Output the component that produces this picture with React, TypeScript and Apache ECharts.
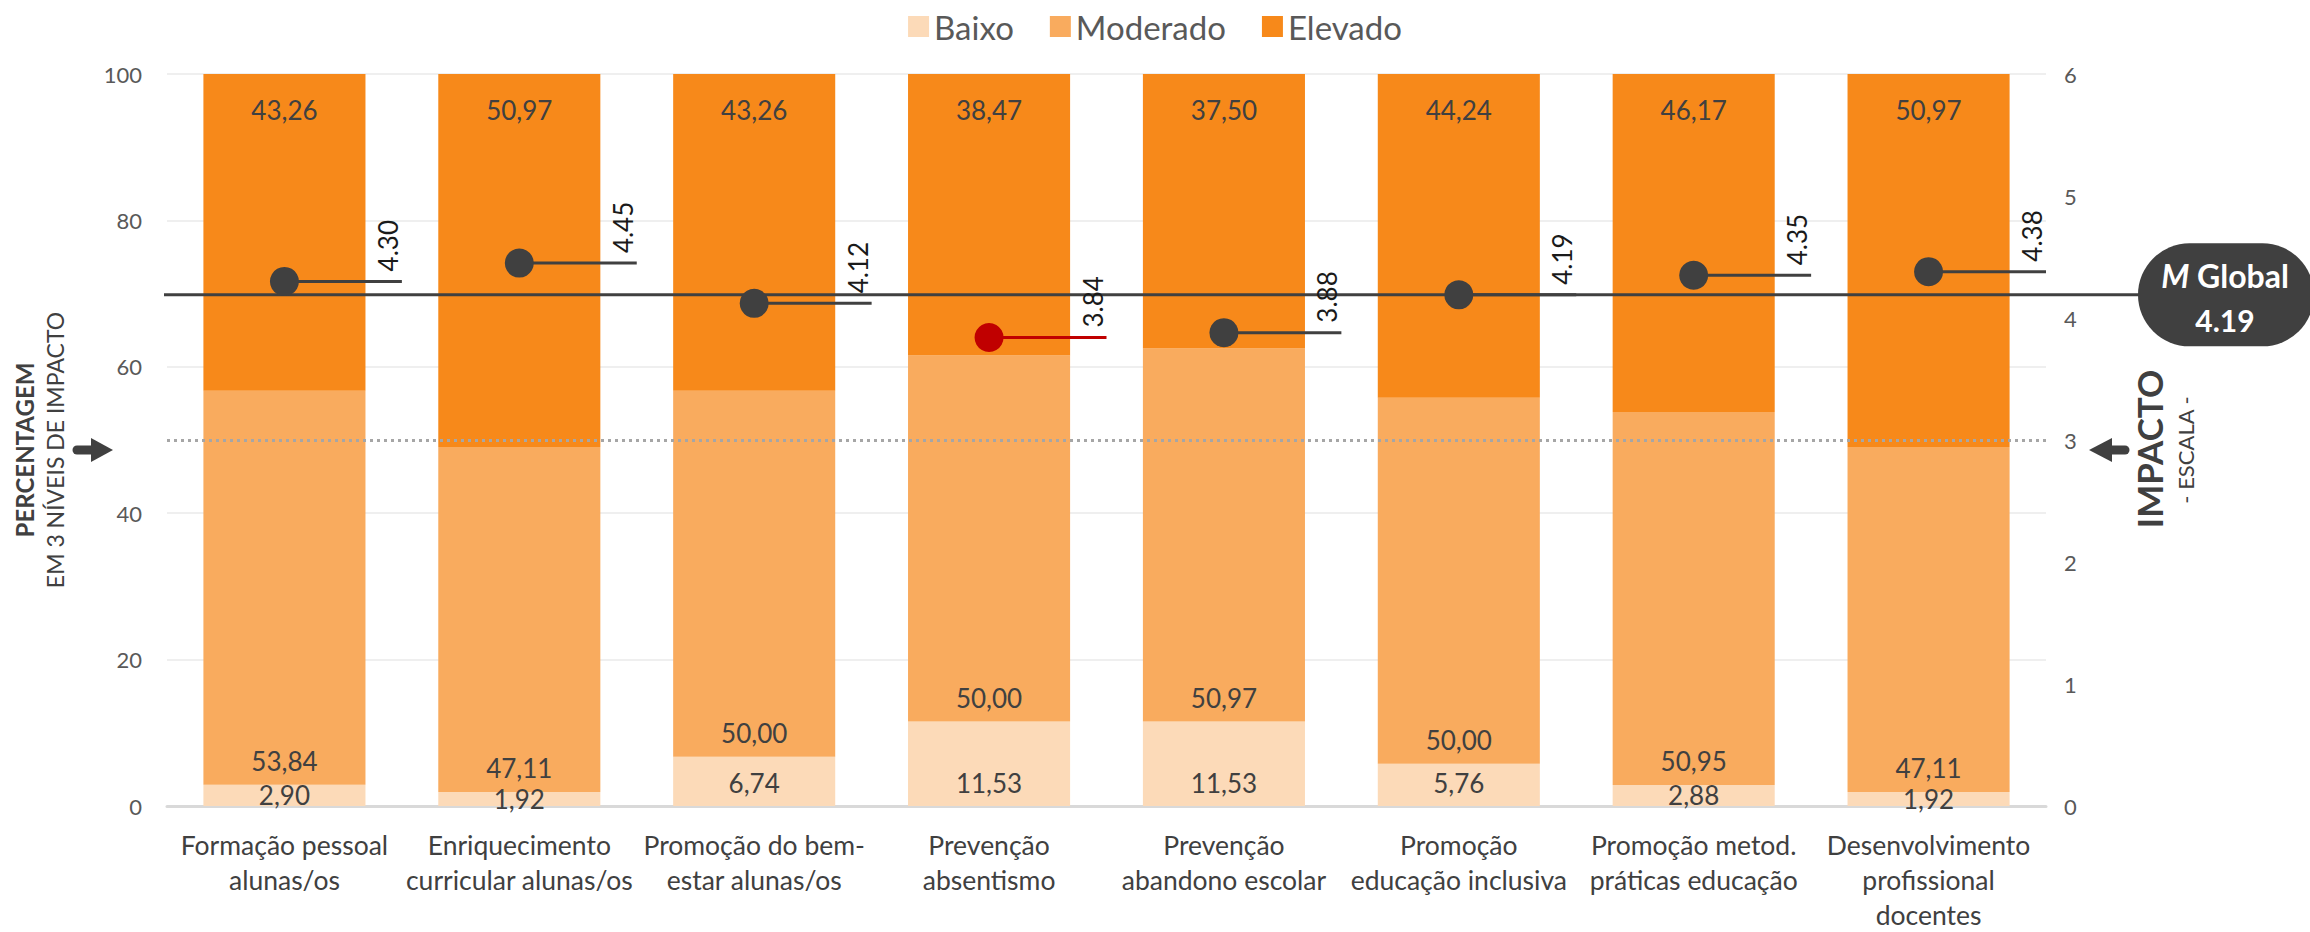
import React, { useEffect, useRef } from "react";
import * as echarts from "echarts";

const categories = [
  "Formação pessoal\nalunas/os",
  "Enriquecimento\ncurricular alunas/os",
  "Promoção do bem-\nestar alunas/os",
  "Prevenção\nabsentismo",
  "Prevenção\nabandono escolar",
  "Promoção\neducação inclusiva",
  "Promoção metod.\npráticas educação",
  "Desenvolvimento\nprofissional\ndocentes",
];
const seriesNames = ["Baixo", "Moderado", "Elevado"];
const baixo = [2.9, 1.92, 6.74, 11.53, 11.53, 5.76, 2.88, 1.92];
const moderado = [53.84, 47.11, 50.0, 50.0, 50.97, 50.0, 50.95, 47.11];
const elevado = [43.26, 50.97, 43.26, 38.47, 37.5, 44.24, 46.17, 50.97];
const means = [4.3, 4.45, 4.12, 3.84, 3.88, 4.19, 4.35, 4.38];
const globalMean = 4.19;
const referenceLevel = 50;
const leftAxis = { min: 0, max: 100, interval: 20 };
const rightAxis = { min: 0, max: 6, interval: 1 };

const FONT = 'Lato, "Open Sans", "DejaVu Sans", sans-serif';
const COLORS = ["#FCDAB8", "#F9AB5E", "#F7891A"];
const DARK = "#404040";

const pct = (v: number) => v.toFixed(2).replace(".", ",");

export default function App() {
  const ref = useRef<HTMLDivElement>(null);
  useEffect(() => {
    if (!ref.current) return;
    const chart = echarts.init(ref.current, null, { renderer: "svg" });
    const minMean = Math.min(...means);

    const labelBase = {
      show: true,
      fontSize: 26,
      fontFamily: FONT,
      color: DARK,
      formatter: (p: any) => pct(p.value),
    };

    const option: any = {
      animation: false,
      backgroundColor: "#fff",
      textStyle: { fontFamily: FONT },
      legend: {
        data: seriesNames,
        top: 5,
        left: "center",
        itemWidth: 21,
        itemHeight: 21,
        itemGap: 36,
        icon: "rect",
        textStyle: { fontSize: 33, color: "#595959", fontFamily: FONT },
      },
      grid: { left: 167, right: 264, top: 74, bottom: 118 },
      xAxis: {
        type: "category",
        data: categories,
        axisLine: { lineStyle: { color: "#D9D9D9", width: 3 } },
        axisTick: { show: false },
        axisLabel: {
          fontSize: 26.5,
          lineHeight: 35,
          color: DARK,
          margin: 21,
          interval: 0,
          fontFamily: FONT,
        },
      },
      yAxis: [
        {
          type: "value",
          ...leftAxis,
          axisLine: { show: false },
          axisTick: { show: false },
          axisLabel: { fontSize: 22, color: "#595959", margin: 25, fontFamily: FONT },
          splitLine: { lineStyle: { color: "#EFEFEF", width: 2 } },
        },
        {
          type: "value",
          ...rightAxis,
          position: "right",
          axisLine: { show: false },
          axisTick: { show: false },
          axisLabel: { fontSize: 22, color: "#595959", margin: 18, fontFamily: FONT },
          splitLine: { show: false },
        },
      ],
      series: [
        {
          name: seriesNames[0],
          type: "bar",
          stack: "total",
          barCategoryGap: "31%",
          itemStyle: { color: COLORS[0] },
          data: baixo.map((v) => ({
            value: v,
            label: v < 5 ? { position: "inside" } : { position: "insideBottom", distance: 10 },
          })),
          label: { ...labelBase },
        },
        {
          name: seriesNames[1],
          type: "bar",
          stack: "total",
          barCategoryGap: "31%",
          itemStyle: { color: COLORS[1] },
          data: moderado,
          label: { ...labelBase, position: "insideBottom", distance: 11 },
        },
        {
          name: seriesNames[2],
          type: "bar",
          stack: "total",
          barCategoryGap: "31%",
          itemStyle: { color: COLORS[2] },
          data: elevado,
          label: { ...labelBase, position: "insideTop", distance: 23 },
          markLine: {
            silent: true,
            symbol: "none",
            label: { show: false },
            lineStyle: { color: "#A6A6A6", type: [3, 4], width: 3 },
            data: [{ yAxis: referenceLevel }],
          },
        },
        {
          name: "Médias",
          type: "custom",
          yAxisIndex: 1,
          clip: false,
          z: 5,
          data: means.map((v, i) => [i, v]),
          encode: { x: 0, y: 1 },
          renderItem: (params: any, api: any) => {
            const idx = api.value(0);
            const v = api.value(1);
            const [cx, cy] = api.coord([idx, v]);
            const band = api.size([1, 0])[0];
            const endX = cx + band / 2;
            const color = v === minMean ? "#C00000" : DARK;
            return {
              type: "group",
              children: [
                {
                  type: "line",
                  shape: { x1: cx, y1: cy, x2: endX, y2: cy },
                  style: { stroke: color, lineWidth: 3 },
                },
                {
                  type: "circle",
                  shape: { cx, cy, r: 14.5 },
                  style: { fill: color },
                },
                {
                  type: "text",
                  x: endX - 1,
                  y: cy - 10,
                  rotation: Math.PI / 2,
                  style: {
                    text: v.toFixed(2),
                    fontSize: 26,
                    fontFamily: FONT,
                    fill: "#1A1A1A",
                    align: "left",
                    verticalAlign: "bottom",
                    textAlign: "left",
                    textVerticalAlign: "bottom",
                  },
                },
              ],
            };
          },
        },
        {
          name: "Global",
          type: "custom",
          yAxisIndex: 1,
          clip: false,
          z: 4,
          data: [[0, globalMean]],
          encode: { x: 0, y: 1 },
          renderItem: (params: any, api: any) => {
            const cs = params.coordSys;
            const v = api.value(1);
            const y = api.coord([0, v])[1];
            const pillX = cs.x + cs.width + 92;
            const pillW = 176;
            const pillH = 103;
            return {
              type: "group",
              children: [
                {
                  type: "line",
                  shape: { x1: cs.x - 3, y1: y, x2: pillX + 10, y2: y },
                  style: { stroke: DARK, lineWidth: 3 },
                },
                {
                  type: "rect",
                  shape: { x: pillX, y: y - pillH / 2, width: pillW, height: pillH, r: pillH / 2 },
                  style: { fill: DARK },
                },
                {
                  type: "text",
                  x: pillX + 87,
                  y: y - 19,
                  style: {
                    text: "{m|M} {g|Global}",
                    align: "center",
                    verticalAlign: "middle",
                    textAlign: "center",
                    textVerticalAlign: "middle",
                    fill: "#fff",
                    fontSize: 32,
                    fontWeight: "bold",
                    fontFamily: FONT,
                    rich: {
                      m: { fontStyle: "italic", fontWeight: "bold", fontSize: 32, fill: "#fff", color: "#fff", fontFamily: FONT },
                      g: { fontWeight: "bold", fontSize: 32, fill: "#fff", color: "#fff", fontFamily: FONT },
                    },
                  },
                },
                {
                  type: "text",
                  x: pillX + 87,
                  y: y + 25,
                  style: {
                    text: v.toFixed(2),
                    align: "center",
                    verticalAlign: "middle",
                    textAlign: "center",
                    textVerticalAlign: "middle",
                    fill: "#fff",
                    fontSize: 30,
                    fontWeight: "bold",
                    fontFamily: FONT,
                  },
                },
              ],
            };
          },
        },
      ],
      graphic: [
        {
          type: "text",
          x: 24,
          y: 450,
          rotation: Math.PI / 2,
          style: {
            text: "PERCENTAGEM",
            fontSize: 24,
            fontWeight: "bold",
            fontFamily: FONT,
            fill: DARK,
            textAlign: "center",
            textVerticalAlign: "middle",
            align: "center",
            verticalAlign: "middle",
          },
        },
        {
          type: "text",
          x: 55,
          y: 450,
          rotation: Math.PI / 2,
          style: {
            text: "EM 3 NÍVEIS DE IMPACTO",
            fontSize: 23,
            fontFamily: FONT,
            fill: DARK,
            textAlign: "center",
            textVerticalAlign: "middle",
            align: "center",
            verticalAlign: "middle",
          },
        },
        {
          type: "line",
          shape: { x1: 77, y1: 450, x2: 95, y2: 450 },
          style: { stroke: DARK, lineWidth: 9, lineCap: "round" },
        },
        {
          type: "polygon",
          shape: { points: [[91, 438], [113, 450], [91, 462]] },
          style: { fill: DARK },
        },
        {
          type: "text",
          x: 2149,
          y: 449,
          rotation: Math.PI / 2,
          style: {
            text: "IMPACTO",
            fontSize: 35,
            fontWeight: "bold",
            fontFamily: FONT,
            fill: DARK,
            textAlign: "center",
            textVerticalAlign: "middle",
            align: "center",
            verticalAlign: "middle",
          },
        },
        {
          type: "text",
          x: 2185,
          y: 450,
          rotation: Math.PI / 2,
          style: {
            text: "- ESCALA -",
            fontSize: 22,
            fontFamily: FONT,
            fill: DARK,
            textAlign: "center",
            textVerticalAlign: "middle",
            align: "center",
            verticalAlign: "middle",
          },
        },
        {
          type: "line",
          shape: { x1: 2108, y1: 450, x2: 2125, y2: 450 },
          style: { stroke: DARK, lineWidth: 9, lineCap: "round" },
        },
        {
          type: "polygon",
          shape: { points: [[2112, 438], [2089, 450], [2112, 462]] },
          style: { fill: DARK },
        },
      ],
    };
    chart.setOption(option);
    return () => chart.dispose();
  }, []);

  return (
    <div
      ref={ref}
      style={{ position: "fixed", left: 0, top: 0, width: 2310, height: 932, background: "#fff" }}
    />
  );
}
